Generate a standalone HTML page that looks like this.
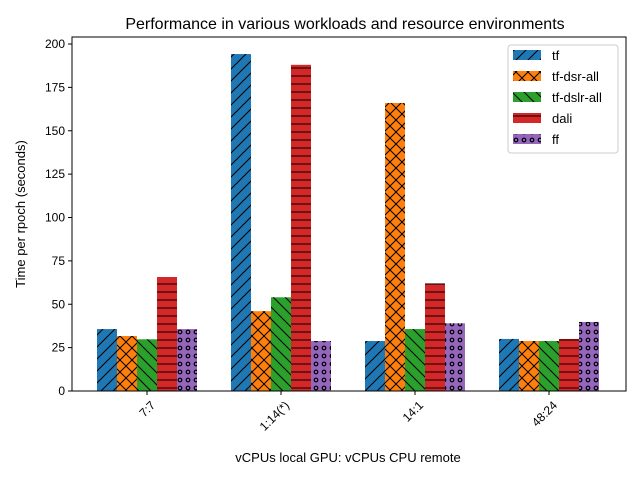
<!DOCTYPE html>
<html><head><meta charset="utf-8"><style>
body{margin:0;background:#fff}
svg text{font-family:"Liberation Sans","DejaVu Sans",sans-serif}
</style></head><body>
<svg id="chart" width="640" height="480" viewBox="0 0 640 480" xmlns="http://www.w3.org/2000/svg">
<defs>
<pattern id="h-tf" patternUnits="userSpaceOnUse" width="12" height="12"><path d="M-3,3 L3,-3 M0,12 L12,0 M9,15 L15,9" stroke="#000" stroke-width="1"/></pattern>
<pattern id="h-dsr" patternUnits="userSpaceOnUse" width="12" height="12"><path d="M0,12 L12,0 M0,0 L12,12 M-3,3 L3,-3 M9,15 L15,9 M-3,9 L3,15 M9,-3 L15,3" stroke="#000" stroke-width="1"/></pattern>
<pattern id="h-dslr" patternUnits="userSpaceOnUse" width="12" height="12"><path d="M0,0 L12,12 M-3,9 L3,15 M9,-3 L15,3" stroke="#000" stroke-width="1"/></pattern>
<pattern id="h-dali" patternUnits="userSpaceOnUse" width="8" height="8"><path d="M0,4 L8,4" stroke="#000" stroke-width="1"/></pattern>
<pattern id="h-ff" patternUnits="userSpaceOnUse" width="8" height="8"><circle cx="4" cy="4" r="1.8" fill="none" stroke="#000" stroke-width="1.2"/></pattern>
</defs>
<text x="345" y="29" font-size="16" text-anchor="middle">Performance in various workloads and resource environments</text>
<g id="bars"></g>
<g id="axes"></g>
<text x="348" y="462" font-size="13" text-anchor="middle">vCPUs local GPU: vCPUs CPU remote</text>
<text transform="translate(25,214) rotate(-90)" font-size="13" text-anchor="middle">Time per rpoch (seconds)</text>
<g id="legend"></g>
</svg>
<script>
const categories = ["7:7", "1:14(*)", "14:1", "48:24"];
const seriesNames = ["tf", "tf-dsr-all", "tf-dslr-all", "dali", "ff"];
const tfValues = [35.7, 194.2, 28.8, 30];
const dsrValues = [31.7, 46, 166, 28.8];
const dslrValues = [29.8, 54, 35.7, 28.8];
const daliValues = [65.7, 188, 62, 30];
const ffValues = [35.7, 28.8, 39, 39.8];
const yTicks = [0, 25, 50, 75, 100, 125, 150, 175, 200];

const allSeries = [tfValues, dsrValues, dslrValues, daliValues, ffValues];
const colors = ["#1f77b4", "#ff7f0e", "#2ca02c", "#d62728", "#9467bd"];
const hatches = ["h-tf", "h-dsr", "h-dslr", "h-dali", "h-ff"];
const NS = "http://www.w3.org/2000/svg";
const L = 72, R = 626, T = 37, B = 391;
const yMax = (B - T) / ((B - 44) / 200);
function y(v) { return B - v / yMax * (B - T); }
function xc(i) { return 147 + i * 134; }
const bw = 20;
function mk(tag, attrs, parent) { const e = document.createElementNS(NS, tag); for (const k in attrs) e.setAttribute(k, attrs[k]); parent.appendChild(e); return e; }
const bars = document.getElementById("bars");
allSeries.forEach((vals, s) => {
  vals.forEach((v, i) => {
    const x = xc(i) - 2.5 * bw + s * bw;
    const r = mk("rect", { x: x, y: y(v), width: bw, height: B - y(v), fill: colors[s] }, bars);
    
    
    const h = mk("rect", { x: x, y: y(v), width: bw, height: B - y(v), fill: "url(#" + hatches[s] + ")" }, bars);
    
    
  });
});
const axes = document.getElementById("axes");
const frame = mk("rect", { x: L, y: T, width: R - L, height: B - T, fill: "none", stroke: "#000", "stroke-width": 1 }, axes);


yTicks.forEach(t => {
  mk("line", { x1: L - 4, x2: L, y1: y(t), y2: y(t), stroke: "#000" }, axes);
  const tx = mk("text", { x: L - 7, y: y(t) + 4, "font-size": 12, "text-anchor": "end" }, axes);
  tx.textContent = t;
  
  
});
categories.forEach((c, i) => {
  mk("line", { x1: xc(i), x2: xc(i), y1: B, y2: B + 4, stroke: "#000" }, axes);
  const tx = mk("text", { x: 0, y: 0, "font-size": 12, "text-anchor": "end", transform: "translate(" + (xc(i) + 9) + "," + (B + 15) + ") rotate(-45)" }, axes);
  tx.textContent = c;
  
  
});
const lg = document.getElementById("legend");
mk("rect", { x: 508, y: 45, width: 110, height: 108, rx: 3, fill: "#fff", stroke: "#ccc", "fill-opacity": 0.8 }, lg);
seriesNames.forEach((n, s) => {
  const yy = 50 + s * 21;
  const p = mk("rect", { x: 513, y: yy, width: 28, height: 10, fill: colors[s] }, lg);
  
  
  mk("rect", { x: 513, y: yy, width: 28, height: 10, fill: "url(#" + hatches[s] + ")" }, lg);
  const tx = mk("text", { x: 552, y: yy + 10, "font-size": 13 }, lg);
  tx.textContent = n;
  
  
});
</script>
</body></html>
